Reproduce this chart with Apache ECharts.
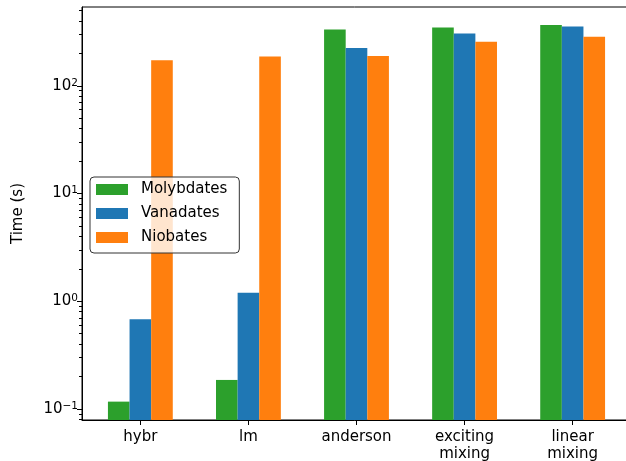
<!DOCTYPE html>
<html>
<head>
<meta charset="utf-8">
<script src="https://cdn.jsdelivr.net/npm/echarts@6/dist/echarts.min.js"></script>
<style>
  html, body { margin: 0; padding: 0; background: #fff; }
  #chart { width: 626px; height: 461px; }
</style>
</head>
<body>
<div id="chart"></div>
<script>
// Solver run times (seconds) per method
const categories = ['hybr', 'lm', 'anderson', 'exciting\nmixing', 'linear\nmixing'];
const molybdates = [0.117, 0.186, 334, 347, 366];
const vanadates  = [0.68, 1.2, 224, 306, 356];
const niobates   = [173, 187, 189, 256, 285];

const seriesNames = ['Molybdates', 'Vanadates', 'Niobates'];
const seriesValues = [molybdates, vanadates, niobates];
const seriesColors = ['#2ca02c', '#1f77b4', '#ff7f0e'];

const majorTicks = [0.1, 1, 10, 100];
const minorTicks = [0.08, 0.09, 0.2, 0.3, 0.4, 0.5, 0.6, 0.7, 0.8, 0.9,
                    2, 3, 4, 5, 6, 7, 8, 9, 20, 30, 40, 50, 60, 70, 80, 90,
                    200, 300, 400, 500];

const yMin = 0.079, yMax = 539;
const xMin = -0.54, xMax = 4.54;
const barSpan = 0.2;          // width of one bar in category units
const font = 'DejaVu Sans';

const chart = echarts.init(document.getElementById('chart'), null, { renderer: 'canvas' });

const pxPerUnit = 549 / (xMax - xMin);

const series = seriesNames.map((name, s) => ({
  name: name,
  type: 'bar',
  yAxisIndex: 0,
  barWidth: barSpan * pxPerUnit,
  barGap: '-100%',
  itemStyle: { color: seriesColors[s] },
  data: seriesValues[s].map((v, i) => [i + (s - 1) * barSpan, v])
}));

function powLabel(v) {
  const e = Math.round(Math.log10(v));
  return '10{e|' + (e < 0 ? '\u2212' + (-e) : e) + '}';
}

const option = {
  animation: false,
  textStyle: { fontFamily: font },
  grid: {
    left: 82, top: 7, width: 549, height: 413,
    show: true, borderColor: '#000', borderWidth: 1,
    containLabel: false,
    outerBoundsMode: 'none'
  },
  legend: {
    orient: 'vertical',
    left: 90, top: 177,
    padding: [5, 12, 8, 6],
    itemGap: 9,
    itemWidth: 32, itemHeight: 11,
    icon: 'rect',
    backgroundColor: 'rgba(255,255,255,0.8)',
    borderColor: '#333', borderWidth: 1, borderRadius: 4,
    textStyle: { fontFamily: font, fontSize: 15, color: '#000', lineHeight: 14, padding: [0, 0, 0, 8] },
    data: seriesNames
  },
  xAxis: {
    type: 'value',
    min: xMin, max: xMax,
    axisLine: { show: true, onZero: false, lineStyle: { color: '#000', width: 1 } },
    axisTick: { show: true, length: 5, inside: false, customValues: [0, 1, 2, 3, 4], lineStyle: { color: '#000' } },
    axisLabel: {
      customValues: [0, 1, 2, 3, 4],
      formatter: v => categories[Math.round(v)],
      fontFamily: font, fontSize: 15, color: '#000',
      margin: 9, lineHeight: 17, align: 'center'
    },
    splitLine: { show: false }
  },
  yAxis: [
    {
      type: 'log', logBase: 10,
      min: yMin, max: yMax, startValue: yMin,
      position: 'left',
      name: 'Time (s)',
      nameLocation: 'middle',
      nameGap: 56,
      nameRotate: 90,
      nameTextStyle: { fontFamily: font, fontSize: 15, color: '#000' },
      axisLine: { show: true, onZero: false, lineStyle: { color: '#000', width: 1 } },
      axisTick: { show: true, length: 5, customValues: majorTicks, lineStyle: { color: '#000' } },
      axisLabel: {
        customValues: majorTicks,
        formatter: powLabel,
        fontFamily: font, fontSize: 15, color: '#000', margin: 4,
        rich: { e: { fontFamily: font, fontSize: 10.5, color: '#000', verticalAlign: 'top', padding: [0, 0, 6, 0] } }
      },
      splitLine: { show: false }
    },
    {
      type: 'log', logBase: 10,
      min: yMin, max: yMax,
      position: 'left',
      axisLine: { show: false, onZero: false },
      axisTick: { show: true, length: 3, customValues: minorTicks, lineStyle: { color: '#000' } },
      axisLabel: { show: false },
      splitLine: { show: false }
    }
  ],
  series: series
};

chart.setOption(option);
</script>
</body>
</html>
